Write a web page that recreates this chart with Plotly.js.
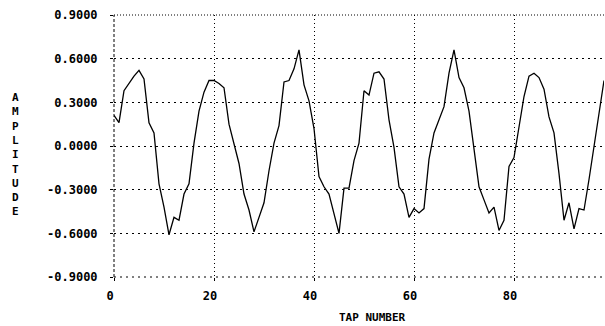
<!DOCTYPE html>
<html>
<head>
<meta charset="utf-8">
<script src="https://cdn.plot.ly/plotly-3.0.1.min.js"></script>
<style>html,body{margin:0;padding:0;background:#fff;}#chart{width:605px;height:326px;}</style>
</head>
<body>
<div id="chart"></div>
<script>
const taps = Array.from({length: 99}, (_, i) => i);
const amplitude = [
  0.21, 0.16, 0.38, 0.43, 0.48, 0.52, 0.46, 0.16, 0.09, -0.26,
  -0.42, -0.61, -0.49, -0.51, -0.33, -0.26, 0.02, 0.24, 0.37, 0.45,
  0.45, 0.43, 0.40, 0.15, 0.02, -0.12, -0.33, -0.44, -0.59, -0.49,
  -0.39, -0.17, 0.02, 0.14, 0.44, 0.45, 0.53, 0.66, 0.42, 0.31,
  0.12, -0.21, -0.28, -0.33, -0.46, -0.60, -0.29, -0.29, -0.10, 0.02,
  0.38, 0.35, 0.50, 0.51, 0.46, 0.18, -0.01, -0.28, -0.33, -0.49,
  -0.43, -0.46, -0.43, -0.09, 0.09, 0.18, 0.27, 0.50, 0.66, 0.47,
  0.40, 0.24, -0.01, -0.28, -0.37, -0.46, -0.42, -0.58, -0.51, -0.14,
  -0.08, 0.13, 0.34, 0.48, 0.50, 0.47, 0.39, 0.20, 0.09, -0.19,
  -0.51, -0.39, -0.57, -0.43, -0.44, -0.23, -0.01, 0.24, 0.45
];
const xTickVals = [0, 20, 40, 60, 80];
const xTickText = ['0', '20', '40', '60', '80'];
const yTickVals = [0.9, 0.6, 0.3, 0.0, -0.3, -0.6, -0.9];
const yTickText = ['0.9000', '0.6000', '0.3000', '0.0000', '-0.3000', '-0.6000', '-0.9000'];
const xTitle = 'TAP NUMBER';
const yTitle = 'AMPLITUDE';

const font = {family: '"DejaVu Sans Mono", monospace', size: 12, color: '#000', weight: 'bold'};
const titleFont = {family: '"DejaVu Sans Mono", monospace', size: 11, color: '#000', weight: 'bold'};

const trace = {
  x: taps, y: amplitude, type: 'scatter', mode: 'lines',
  line: {color: '#000', width: 1.3}, hoverinfo: 'skip'
};

const layout = {
  width: 605, height: 326,
  margin: {l: 114, r: 1, t: 15, b: 49},
  paper_bgcolor: '#fff', plot_bgcolor: '#fff',
  showlegend: false,
  font: font,
  xaxis: {
    range: [0, 98], tickmode: 'array', tickvals: xTickVals, ticktext: xTickText,
    showgrid: true, gridcolor: '#000', gridwidth: 1, griddash: '1px,3px',
    zeroline: false, showline: false,
    ticks: 'outside', ticklen: 3, tickcolor: '#000', ticklabelstandoff: 5,
    ticklabelshift: -4,
    tickfont: font
  },
  yaxis: {
    range: [-0.9, 0.9], tickmode: 'array', tickvals: yTickVals, ticktext: yTickText,
    showgrid: true, gridcolor: '#000', gridwidth: 1, griddash: '2px,4px',
    zeroline: false, showline: false,
    ticks: 'outside', ticklen: 3, tickcolor: '#000', ticklabelstandoff: 10,
    tickfont: font
  },
  shapes: [
    {type: 'line', xref: 'paper', yref: 'paper', x0: 0, x1: 0, y0: 0, y1: 1,
     line: {color: '#000', width: 1, dash: '3px,2px'}},
    {type: 'line', xref: 'paper', yref: 'paper', x0: 0, x1: 1, y0: 1, y1: 1,
     line: {color: '#000', width: 1, dash: '1px,2px'}},
    {type: 'line', xref: 'paper', yref: 'paper', x0: 0, x1: 1, y0: 0, y1: 0,
     line: {color: '#000', width: 1, dash: '2px,4px'}}
  ],
  annotations: [
    {text: yTitle.split('').join('<br>'), xref: 'paper', yref: 'paper',
     x: 0, y: 0.5, xanchor: 'center', yanchor: 'middle', xshift: -99, yshift: -8,
     showarrow: false, font: titleFont, align: 'center'},
    {text: xTitle, xref: 'paper', yref: 'paper',
     x: 0.5, y: 0, xanchor: 'center', yanchor: 'middle', xshift: 13, yshift: -40,
     borderpad: 0, showarrow: false, font: titleFont}
  ]
};

Plotly.newPlot('chart', [trace], layout, {staticPlot: true, displayModeBar: false});
</script>
</body>
</html>
